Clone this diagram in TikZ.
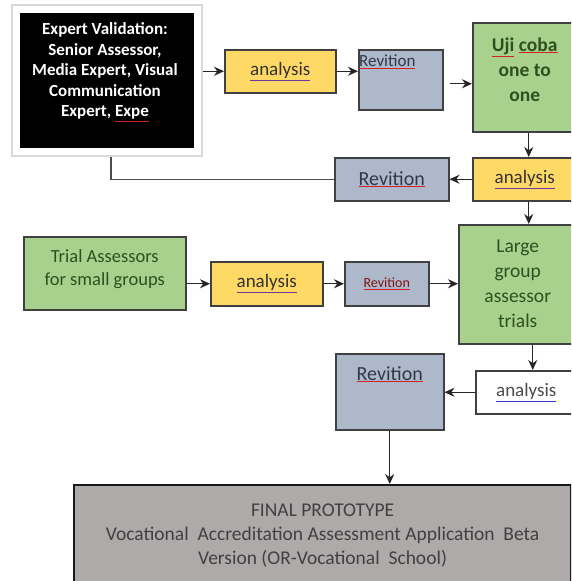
\documentclass[tikz,border=0pt]{standalone}
\usepackage{fontspec}
\setmainfont{Carlito}
\usetikzlibrary{positioning,arrows.meta,fit,calc}

\definecolor{anayellow}{HTML}{FFD966}
\definecolor{revblue}{HTML}{ADB9CA}
\definecolor{trialgreen}{HTML}{A9D18E}
\definecolor{finalgray}{HTML}{AEAAAA}
\definecolor{edgegray}{HTML}{404040}
\definecolor{greentext}{HTML}{2F4F1F}
\definecolor{revtext}{HTML}{2E3A4A}
\definecolor{squigred}{HTML}{D02020}
\definecolor{squigblue}{HTML}{3A3AD0}
\definecolor{squigpurple}{HTML}{6A3A9A}

% font size / leading in px
\newcommand{\fsz}[2]{\fontsize{#1}{#2}\selectfont}
% spell-check underline: line colour, text colour, text
\newcommand{\squig}[3]{{\color{#1}\underline{\color{#2}#3}}}

\tikzset{
    % Generic stage box
    stagebox/.style={
        draw=edgegray,
        line width=1.5pt,
        anchor=north west,
        align=center,
        inner sep=0pt,
        text=black!80
    },
    % Analysis boxes
    anabox/.style={
        stagebox,
        fill=anayellow,
        font=\fsz{19}{22}
    },
    % Revision boxes
    revbox/.style={
        stagebox,
        fill=revblue,
        text=revtext
    },
    % Trial boxes
    trialbox/.style={
        stagebox,
        fill=trialgreen,
        text=greentext
    },
    % Arrows
    flow/.style={
        -{Stealth[length=10pt,width=9pt]},
        line width=1.4pt,
        draw=black!85
    },
    plainline/.style={
        line width=1.4pt,
        draw=black!70
    }
}

\begin{document}
\begin{tikzpicture}[x=1pt,y=-1pt]

\clip (0,0) rectangle (571,581);
\fill[white] (0,0) rectangle (571,581);

% === ROW 1: EXPERT VALIDATION ===
\node[fill=black, draw=white, line width=4pt, anchor=north west,
      minimum width=178pt, minimum height=139pt] (expert) at (16,9) {};
\node[draw=gray!30, line width=1.5pt, inner sep=4pt, fit=(expert)] (expframe) {};
\node[text=white, align=center, font=\fsz{17}{20.5}\bfseries] (exptxt) at (105,72) {
    Expert Validation:\\
    Senior Assessor,\\
    Media Expert, Visual\\
    Communication\\
    Expert, \squig{squigred}{white}{Expe}
};

\node[anabox, minimum width=111pt, minimum height=43pt] (ana1) at (224,49)
    {\squig{squigpurple}{black!80}{analysis}};

\node[revbox, minimum width=84pt, minimum height=60pt,
      label={[anchor=north west, inner sep=0pt, xshift=1pt, yshift=-6pt,
              text=revtext, font=\fsz{17}{20}]north west:\squig{squigred}{revtext}{Revition}}]
    (rev1) at (358,49) {};

\node[trialbox, minimum width=104pt, minimum height=109pt, font=\fsz{19.5}{25}\bfseries]
    (uji) at (472,22) {\squig{squigred}{greentext}{Uji} \squig{squigred}{greentext}{coba}\\ one to\\ one\\[-9pt]};

\draw[flow] (expframe.east |- ana1.west) -- (ana1.west);
\draw[flow] (ana1.east) -- (ana1.east -| rev1.west);
\draw[flow, shorten <=6pt] ([yshift=-4pt]rev1.east) -- ([yshift=-4pt]rev1.east -| uji.west);

% === ROW 2: FIRST REVISION LOOP ===
\node[anabox, minimum width=104pt, minimum height=43pt] (ana2) at (472,157)
    {\squig{squigpurple}{black!80}{analysis}};

\node[revbox, minimum width=114pt, minimum height=43pt, font=\fsz{20}{22}] (rev2) at (334,157)
    {\squig{squigred}{revtext}{Revition}};

\draw[flow] ([xshift=4pt]uji.south) -- ([xshift=4pt]ana2.north);
\draw[flow] (ana2.west) -- (rev2.east);
\draw[plainline] (rev2.west) -| ([xshift=4pt]expframe.south);

% === ROW 3: SMALL GROUP TRIAL ===
\node[trialbox, minimum width=118pt, minimum height=119pt, font=\fsz{19.5}{25}]
    (large) at (458,224) {Large\\ group\\ assessor\\ trials};

\node[trialbox, minimum width=162pt, minimum height=73pt, font=\fsz{18.5}{23}]
    (trial) at (23,236) {Trial Assessors\\ for small groups\\[-11pt]};

\node[anabox, minimum width=112pt, minimum height=44pt] (ana3) at (210,261)
    {\squig{squigpurple}{black!80}{analysis}};

\node[revbox, minimum width=84pt, minimum height=44pt, font=\fsz{14}{16}] (rev3) at (344,261)
    {\squig{squigred}{squigred!60!black}{Revition}};

\draw[flow] (trial.east |- ana3.west) -- (ana3.west);
\draw[flow] (ana3.east) -- (rev3.west);
\draw[flow] (rev3.east) -- (rev3.east -| large.west);

% === ROW 4: LARGE GROUP ANALYSIS ===
\node[stagebox, fill=white, minimum width=101pt, minimum height=43pt, font=\fsz{19}{22}]
    (ana4) at (475,370) {\squig{squigblue}{black!70}{analysis}};

\node[revbox, minimum width=108pt, minimum height=76pt,
      label={[anchor=north, inner sep=0pt, yshift=-13pt,
              text=revtext, font=\fsz{20}{22}]north:\squig{squigred}{revtext}{Revition}}]
    (rev4) at (335,353) {};

\draw[flow] ([xshift=4pt]ana2.south) -- ([xshift=4pt]ana2.south |- large.north);
\draw[flow] ([xshift=15pt]large.south) -- ([xshift=15pt]large.south |- ana4.north);
\draw[flow] (ana4.west) -- (ana4.west -| rev4.east);

% === FINAL PROTOTYPE ===
\node[stagebox, fill=finalgray, draw=black!90, line width=2.2pt,
      minimum width=497pt, minimum height=100pt, font=\fsz{19.5}{24}, text=black!75]
    (final) at (73,484) {
    FINAL PROTOTYPE\\
    Vocational~ Accreditation Assessment Application~ Beta\\
    Version (OR-Vocational~ School)
};

\draw[flow] (rev4.south) -- (rev4.south |- final.north);

\end{tikzpicture}
\end{document}
